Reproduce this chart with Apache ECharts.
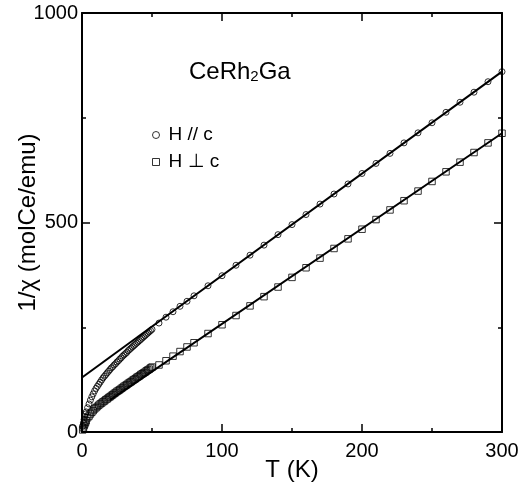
<!DOCTYPE html>
<html>
<head>
<meta charset="utf-8">
<script src="https://cdn.jsdelivr.net/npm/echarts@6/dist/echarts.min.js"></script>
<style>
  html, body { margin: 0; padding: 0; background: #fff; }
  #chart { width: 530px; height: 493px; }
</style>
</head>
<body>
<div id="chart"></div>
<script>
// H // c : temperature (K) and 1/chi (molCe/emu)
const tempPar = [0.5, 1, 1.5, 2, 2.5, 3, 4, 5, 6, 7, 8, 9, 10, 11, 12, 13, 14, 15, 16, 17, 18, 19, 20,
  21, 22, 23, 24, 25, 26, 27, 28, 29, 30, 31, 32, 33, 34, 35, 36, 37, 38, 39, 40,
  41, 42, 43, 44, 45, 46, 47, 48, 49, 50, 55, 60, 65, 70, 75, 80, 90, 100, 110, 120,
  130, 140, 150, 160, 170, 180, 190, 200, 210, 220, 230, 240, 250, 260, 270, 280, 290, 300];
const chiPar = [14, 22, 30, 37, 43, 48, 58, 67, 76, 84, 91, 98, 104, 109, 114, 119, 124, 129, 133, 137, 141, 145, 149,
  153, 156, 160, 163, 167, 170, 174, 177, 181, 184, 187, 190, 194, 197, 200, 203, 206, 209, 212, 215,
  218, 221, 224, 227, 230, 233, 236, 239, 242, 245, 260, 274, 287, 300, 312, 325, 349, 373, 398, 422,
  446, 471, 495, 519, 544, 568, 592, 617, 641, 665, 690, 714, 738, 763, 787, 811, 836, 860];

// H perp c
const tempPerp = [0.5, 1, 1.5, 2, 2.5, 3, 4, 5, 6, 7, 8, 9, 10, 11, 12, 13, 14, 15, 16, 17, 18, 19, 20,
  21, 22, 23, 24, 25, 26, 27, 28, 29, 30, 31, 32, 33, 34, 35, 36, 37, 38, 39, 40,
  41, 42, 43, 44, 45, 46, 47, 48, 49, 50, 55, 60, 65, 70, 75, 80, 90, 100, 110, 120,
  130, 140, 150, 160, 170, 180, 190, 200, 210, 220, 230, 240, 250, 260, 270, 280, 290, 300];
const chiPerp = [5, 10, 15, 19, 23, 27, 34, 38, 43, 47, 51, 55, 58, 61, 64, 67, 69, 72, 74, 77, 79, 82, 84,
  87, 89, 92, 94, 97, 99, 101, 104, 106, 109, 111, 113, 116, 118, 120, 123, 125, 127, 130, 132,
  134, 137, 139, 141, 143, 146, 148, 150, 153, 155, 160, 170, 181, 192, 203, 213, 235, 256, 278, 301,
  323, 346, 369, 392, 415, 438, 461, 484, 507, 530, 552, 575, 598, 621, 644, 667, 690, 713];

// Curie-Weiss fit lines (end points)
const fitPar = [[0, 130], [300, 860]];
const fitPerp = [[20, 76], [300, 713]];

const xTicks = { min: 0, max: 300, interval: 100 };
const yTicks = { min: 0, max: 1000, interval: 500 };

const FONT = '"Liberation Sans", Arial, Helvetica, sans-serif';

const chart = echarts.init(document.getElementById('chart'));

function pairs(xs, ys) {
  return xs.map((x, i) => [x, ys[i]]);
}

function axisBase(show, margin) {
  return {
    nameMoveOverlap: false,
    axisLine: { show: true, onZero: false, lineStyle: { color: '#000', width: 2 } },
    axisTick: { show: true, inside: true, length: 8, lineStyle: { color: '#000', width: 1.5 } },
    minorTick: { show: true, splitNumber: 2, length: 4, lineStyle: { color: '#000', width: 1.5 } },
    splitLine: { show: false },
    axisLabel: {
      show: show, color: '#000', fontSize: 20, fontFamily: FONT, margin: margin || 8,
      formatter: (v) => String(v)
    }
  };
}

const option = {
  animation: false,
  backgroundColor: '#fff',
  title: {
    text: '{a|CeRh}{b|2}{a|Ga}',
    left: 184,
    top: 49,
    textStyle: {
      rich: {
        a: { fontSize: 24, fontFamily: FONT, fontWeight: 'normal', color: '#000', lineHeight: 30, verticalAlign: 'bottom' },
        b: { fontSize: 15, fontFamily: FONT, fontWeight: 'normal', color: '#000', lineHeight: 12, verticalAlign: 'bottom' }
      }
    }
  },
  legend: {
    data: ['H // c', 'H \u22a5 c'],
    orient: 'vertical',
    left: 147,
    top: 119,
    itemWidth: 7,
    itemHeight: 7,
    itemGap: 5,
    textStyle: { fontSize: 19, fontFamily: FONT, color: '#000', lineHeight: 22, padding: [0, 0, 0, 4] },
    itemStyle: { color: 'rgba(0,0,0,0)', borderColor: '#000', borderWidth: 1 }
  },
  grid: { left: 82, right: 28, top: 13, bottom: 61, containLabel: false, outerBoundsMode: 'none' },
  xAxis: [
    Object.assign({
      type: 'value', position: 'bottom', ...xTicks,
      name: 'T (K)', nameLocation: 'middle', nameGap: 26,
      nameTextStyle: { fontSize: 24, fontFamily: FONT, color: '#000' }
    }, axisBase(true, 9)),
    Object.assign({ type: 'value', position: 'top', ...xTicks }, axisBase(false))
  ],
  yAxis: [
    Object.assign({
      type: 'value', position: 'left', ...yTicks,
      name: '1/\u03c7 (molCe/emu)', nameLocation: 'middle', nameGap: 42,
      nameTextStyle: { fontSize: 24, fontFamily: FONT, color: '#000' }
    }, axisBase(true, 4)),
    Object.assign({ type: 'value', position: 'right', ...yTicks }, axisBase(false))
  ],
  series: [
    {
      name: 'fit //', type: 'line', data: fitPar, symbol: 'none',
      lineStyle: { color: '#000', width: 2 }, z: 2
    },
    {
      name: 'fit perp', type: 'line', data: fitPerp, symbol: 'none',
      lineStyle: { color: '#000', width: 2 }, z: 2
    },
    {
      name: 'H // c', type: 'scatter', data: pairs(tempPar, chiPar),
      symbol: 'circle', symbolSize: 6,
      itemStyle: { color: 'rgba(0,0,0,0)', borderColor: '#000', borderWidth: 1 }, z: 3
    },
    {
      name: 'H \u22a5 c', type: 'scatter', data: pairs(tempPerp, chiPerp),
      symbol: 'rect', symbolSize: 6.5,
      itemStyle: { color: 'rgba(0,0,0,0)', borderColor: '#000', borderWidth: 1 }, z: 3
    }
  ]
};

chart.setOption(option);

window.addEventListener('resize', () => chart.resize());
</script>
</body>
</html>
